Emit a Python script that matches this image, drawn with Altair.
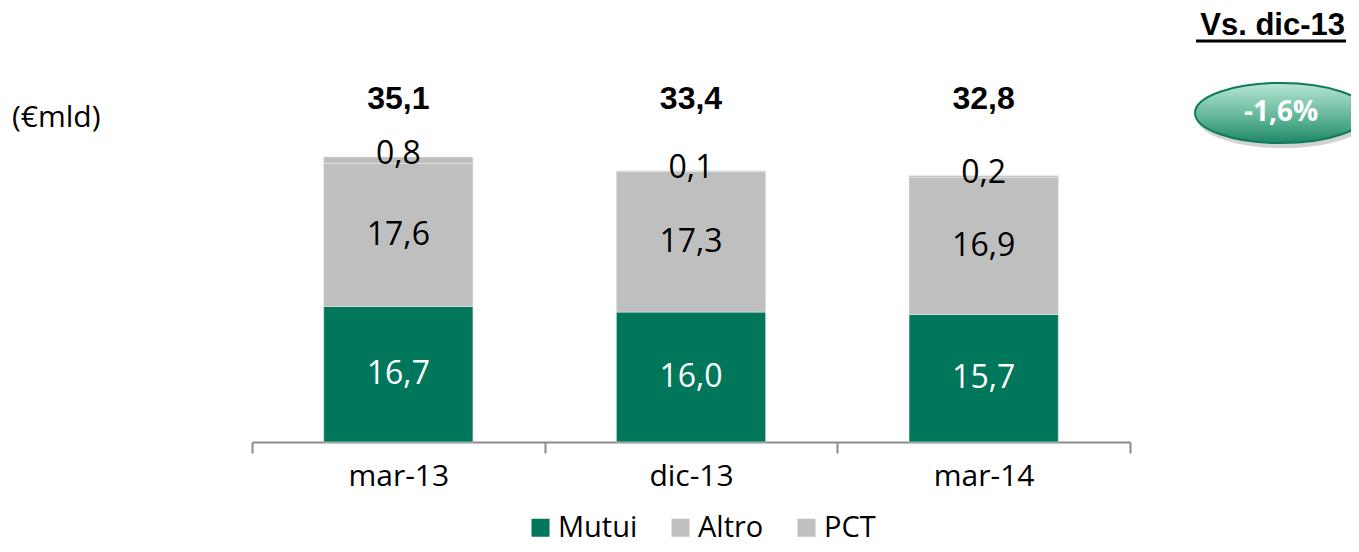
import altair as alt
import pandas as pd

categories = ["mar-13", "dic-13", "mar-14"]
series = ["Mutui", "Altro", "PCT"]
mutui = [16.7, 16.0, 15.7]
altro = [17.6, 17.3, 16.9]
pct = [0.8, 0.1, 0.2]
totals = [35.1, 33.4, 32.8]
colors = ["#00765A", "#BFBFBF", "#BFBFBF"]
unit_label = "(€mld)"
compare_title = "Vs. dic-13"
compare_value = "-1,6%"


def fmt(v):
    return f"{v:.1f}".replace(".", ",")


rows = []
for i, c in enumerate(categories):
    for j, (s, vals) in enumerate(zip(series, [mutui, altro, pct])):
        rows.append({"cat": c, "series": s, "value": vals[i], "ord": j, "label": fmt(vals[i])})
df = pd.DataFrame(rows)
tot_df = pd.DataFrame({"cat": categories, "total": totals, "label": [fmt(t) for t in totals]})

W, H = 878, 382
FONT = "Open Sans"

x_scale = alt.Scale(paddingInner=0, paddingOuter=0)
x_enc = alt.X(
    "cat:N",
    sort=categories,
    title=None,
    scale=x_scale,
    axis=alt.Axis(
        labelAngle=0, labelFont=FONT, labelFontSize=30, labelColor="black",
        labelPadding=8, domainColor="#8C8C8C", domainWidth=2,
        tickColor="#8C8C8C", tickWidth=2, tickSize=11, tickBand="extent",
        grid=False,
    ),
)
y_scale = alt.Scale(domain=[0, 47.04], nice=False, zero=True)

base = alt.Chart(df)

bars = base.mark_bar(
    stroke="#E6E6E6", strokeWidth=0.6, width=alt.RelativeBandSize(0.51)
).encode(
    x=x_enc,
    y=alt.Y("value:Q", stack="zero", scale=y_scale, axis=None),
    color=alt.Color(
        "series:N",
        scale=alt.Scale(domain=series, range=colors),
        legend=alt.Legend(
            title=None, orient="none", direction="horizontal",
            legendX=274, legendY=453, symbolType="square", symbolSize=324,
            symbolStrokeWidth=0, labelFont=FONT, labelFontSize=29,
            labelColor="black", columnPadding=28, labelOffset=3, padding=0,
        ),
    ),
    order=alt.Order("ord:Q", sort="ascending"),
)

stacked = base.transform_stack(
    stack="value", groupby=["cat"], as_=["v0", "v1"],
    sort=[alt.SortField("ord", order="ascending")],
).transform_calculate(mid="(datum.v0 + datum.v1) / 2")

seg_labels = stacked.transform_filter("datum.series != 'PCT'").mark_text(
    font=FONT, fontSize=32, baseline="middle"
).encode(
    x=alt.X("cat:N", sort=categories, scale=x_scale),
    y=alt.Y("mid:Q", scale=y_scale),
    text="label:N",
    color=alt.condition("datum.series == 'Mutui'", alt.value("white"), alt.value("black")),
)

pct_labels = stacked.transform_filter("datum.series == 'PCT'").mark_text(
    font=FONT, fontSize=32, baseline="middle", dy=-3, color="black"
).encode(
    x=alt.X("cat:N", sort=categories, scale=x_scale),
    y=alt.Y("v1:Q", scale=y_scale),
    text="label:N",
)

tot_labels = alt.Chart(tot_df).mark_text(
    font="Liberation Sans", fontSize=32, fontWeight="bold", baseline="middle", color="black"
).encode(
    x=alt.X("cat:N", sort=categories, scale=x_scale),
    y=alt.value(39),
    text="label:N",
)

unit = alt.Chart(pd.DataFrame({"t": [unit_label]})).mark_text(
    font=FONT, fontSize=30, align="left", baseline="middle", color="black"
).encode(x=alt.value(-240), y=alt.value(58), text="t:N")

cmp_title = alt.Chart(pd.DataFrame({"t": [compare_title]})).mark_text(
    font="Liberation Sans", fontSize=31, fontWeight="bold", align="right",
    baseline="middle", color="black"
).encode(x=alt.value(1093), y=alt.value(-34), text="t:N")

underline = alt.Chart(pd.DataFrame({"t": [compare_title]})).mark_rule(
    color="black", strokeWidth=3
).encode(x=alt.value(944), x2=alt.value(1094), y=alt.value(-19))

ELL = ("M -1 0 C -1 -0.1933 -0.5523 -0.35 0 -0.35 C 0.5523 -0.35 1 -0.1933 1 0 "
       "C 1 0.1933 0.5523 0.35 0 0.35 C -0.5523 0.35 -1 0.1933 -1 0 Z")

shadow = alt.Chart(pd.DataFrame({"t": [compare_value]})).mark_point(
    shape=ELL, size=29584, filled=True, fill="#7F7F7F", opacity=0.35, strokeWidth=0
).encode(x=alt.value(1031), y=alt.value(58))

badge = alt.Chart(pd.DataFrame({"t": [compare_value]})).mark_point(
    shape=ELL, size=29584, filled=True,
    fill=alt.Gradient(
        gradient="linear", x1=0, y1=0, x2=0, y2=1,
        stops=[alt.GradientStop(color="#B8E6D4", offset=0),
               alt.GradientStop(color="#5DB394", offset=0.6),
               alt.GradientStop(color="#1E8766", offset=1)],
    ),
    stroke="#0E7A5C", strokeWidth=2, opacity=1,
).encode(x=alt.value(1029), y=alt.value(53))

badge_text = alt.Chart(pd.DataFrame({"t": [compare_value]})).mark_text(
    font=FONT, fontSize=28, fontWeight="bold", color="white", baseline="middle"
).encode(x=alt.value(1029), y=alt.value(53), text="t:N")

chart = alt.layer(
    bars, seg_labels, pct_labels, tot_labels, unit, cmp_title, underline,
    shadow, badge, badge_text
).properties(
    width=W, height=H,
    background="white",
    autosize=alt.AutoSizeParams(type="none"),
    padding={"left": 244, "top": 52, "right": 221, "bottom": 102},
).configure_view(strokeWidth=0, stroke="transparent")

chart.save("out.html", embed_options={"renderer": "svg", "actions": False})
